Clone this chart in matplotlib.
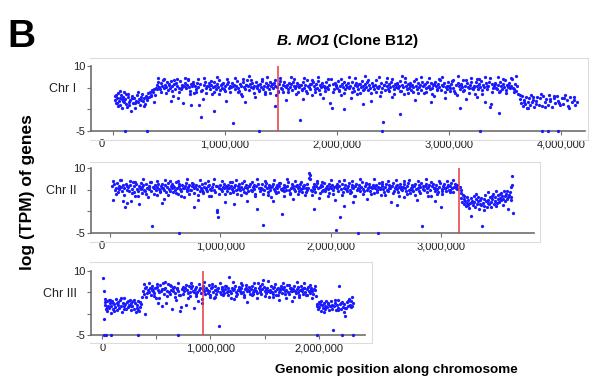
import matplotlib.pyplot as plt
from matplotlib.ticker import FuncFormatter
from matplotlib.lines import Line2D
from matplotlib.transforms import ScaledTranslation

plt.rcParams['font.family'] = ['Liberation Sans', 'DejaVu Sans']

# (gene position in kb, log TPM); -5 = not expressed
CHR1_GENES = [
    (18, 2.1), (25, 1.4), (31, 3.2), (37, 2.6), (43, 0.8), (49, 3.8), (54, 1.9), (60, 2.7), (66, 1.1), (72, 3.4),
    (78, 2.3), (84, 0.2), (90, 2.9), (97, 1.7), (103, 3.9), (110, 2.4), (117, 1.2), (124, 0.6), (131, 2.8), (138, 3.5),
    (146, 1.8), (154, 2.2), (162, -0.3), (170, 3.1), (178, 1.5), (186, 2.6), (195, 0.4), (204, 2.0), (213, 3.3), (222, 1.6),
    (231, 2.4), (240, 1.0), (249, 2.9), (258, 3.6), (267, 1.9), (276, 2.5), (285, 1.3), (294, 3.0), (303, 2.1), (312, 3.7),
    (321, 2.8), (330, 4.1), (339, 3.4), (348, 4.5), (357, 3.9), (366, 4.6), (375, 3.2), (384, 5.0),
    (396, 5.6), (405, 6.4), (414, 5.1), (422, 4.7), (431, 6.0), (440, 5.3), (448, 6.8), (457, 4.9), (466, 5.7), (475, 5.2),
    (484, 6.2), (493, 4.4), (502, 5.8), (511, 5.0), (520, 6.5), (529, 5.5), (538, 3.1), (547, 5.9), (556, 4.8), (565, 6.1),
    (574, 5.4), (583, 2.6), (592, 5.0), (601, 6.6), (610, 4.6), (619, 5.7), (628, 1.4), (637, 5.3), (646, 6.0), (655, 4.9),
    (664, 5.6), (673, 6.9), (682, 5.1), (691, 4.3), (700, 5.8), (709, 5.4), (718, 6.3), (727, 3.8), (736, 5.5), (745, 4.7),
    (754, 6.1), (763, 5.2), (772, 0.9), (781, 5.9), (790, -1.8), (799, 4.5), (808, 2.4), (817, 5.6), (826, 6.4), (835, 4.9),
    (844, 5.3), (853, 6.0), (862, 4.6), (871, 5.7), (880, 3.5), (889, 5.1), (898, 6.2), (907, 5.5), (916, 4.8), (925, 5.9),
    (934, 5.2), (943, 6.7), (952, 4.4), (961, 5.6), (970, 5.0), (979, 6.1), (988, 4.7), (997, 5.4), (1006, 2.0), (1015, 5.8),
    (1024, 6.3), (1033, 4.9), (1042, 5.5), (1051, 5.1), (1060, 6.0), (1069, -3.2), (1078, 5.7), (1087, 4.6), (1096, 5.3), (1105, 6.5),
    (1114, 5.0), (1123, 4.2), (1132, 5.9), (1141, 5.4), (1150, 3.0), (1159, 6.2), (1168, 5.2), (1177, 4.8), (1186, 5.6), (1195, 6.8),
    (1204, 5.3), (1213, 4.5), (1222, 5.8), (1231, 5.1), (1240, 6.1), (1249, 4.9), (1258, 5.5), (1267, 2.9), (1276, 6.4), (1285, 5.0),
    (1294, 5.7), (1303, 4.4), (1312, 5.9), (1321, 5.2), (1330, 6.6), (1339, 4.7), (1348, 5.4), (1357, 3.6), (1366, 6.0), (1375, 5.1),
    (1384, 5.6), (1393, 4.6), (1402, 6.3), (1411, 5.3), (1420, 5.8), (1429, 4.9), (1438, 6.1), (1447, 5.5), (1456, 3.3), (1465, 5.2),
    (1474, 4.1), (1483, 5.9), (1492, 6.5), (1501, 5.0), (1510, 4.7), (1519, 5.7), (1528, 6.2), (1537, 5.4), (1546, 2.2), (1555, 5.6),
    (1564, 4.8), (1573, 6.0), (1582, 5.1), (1591, 5.8), (1600, 4.5), (1609, 6.4), (1618, 5.3), (1627, 4.9), (1636, 5.5), (1645, 6.1),
    (1654, 3.9), (1663, 5.2), (1672, -2.4), (1681, 5.7), (1690, 4.6), (1699, 6.3), (1708, 5.0), (1717, 5.6), (1726, 4.3), (1735, 6.7),
    (1744, 5.4), (1753, 5.1), (1762, 4.8), (1771, 5.9), (1780, 3.2), (1789, 6.2), (1798, 5.3), (1807, 4.7), (1816, 5.8), (1825, 5.0),
    (1834, 6.5), (1843, 4.4), (1852, 5.6), (1861, 5.2), (1870, 6.0), (1879, 2.7), (1888, 5.5), (1897, 4.9), (1906, 6.3), (1915, 5.1),
    (1924, 4.6), (1933, 5.7), (1942, 1.5), (1951, 0.3), (1960, 5.9), (1969, 4.8), (1978, 6.1), (1987, 5.3), (1996, 5.0), (2005, 6.6),
    (2014, 4.5), (2023, 5.4), (2032, 3.4), (2041, 5.8), (2050, 5.2), (2059, 6.2), (2068, 4.7), (2077, 5.6), (2086, 5.1), (2095, 6.0),
    (2104, 4.9), (2113, 5.5), (2122, 2.5), (2131, 6.4), (2140, 5.0), (2149, 4.3), (2158, 5.7), (2167, 6.1), (2176, 5.3), (2185, 4.8),
    (2194, 5.9), (2203, 3.7), (2212, 5.2), (2221, 6.5), (2230, 5.4), (2239, 4.6), (2248, 5.8), (2257, 5.1), (2266, 6.3), (2275, 4.4),
    (2284, 5.6), (2293, 5.0), (2302, 1.9), (2311, 6.0), (2320, 5.3), (2329, 4.7), (2338, 5.7), (2347, 6.8), (2356, 5.2), (2365, 4.9),
    (2374, 5.5), (2383, 3.1), (2392, 6.1), (2401, 5.0), (2410, -3.0), (2419, 5.6), (2428, 4.5), (2437, 6.2), (2446, 5.3), (2455, 4.8),
    (2464, 5.9), (2473, 5.1), (2482, 6.4), (2491, 2.8), (2500, 5.4), (2509, 4.6), (2518, 5.8), (2527, 5.2), (2536, 6.0), (2545, 4.9),
    (2554, 5.5), (2563, 6.6), (2572, 4.2), (2581, 5.7), (2590, 5.1), (2599, 3.5), (2608, 6.3), (2617, 5.3), (2626, 4.7), (2635, 5.9),
    (2644, 5.0), (2653, 6.1), (2662, 4.4), (2671, 5.6), (2680, 5.2), (2689, 6.5), (2698, 2.1), (2707, 5.4), (2716, 4.8), (2725, 6.0),
    (2734, 5.1), (2743, 5.7), (2752, 4.5), (2761, 6.2), (2770, 5.3), (2779, 3.8), (2788, 5.8), (2797, 4.9), (2806, 6.4), (2815, 5.2),
    (2824, 5.5), (2833, 4.6), (2842, 6.1), (2851, 5.0), (2860, 5.6), (2869, 3.0), (2878, 6.3), (2887, 5.4), (2896, 4.7), (2905, 5.9),
    (2914, 5.1), (2923, 6.7), (2932, 4.4), (2941, 5.7), (2950, 5.3), (2959, 6.0), (2968, 2.6), (2977, 5.2), (2986, 4.8), (2995, 6.2),
    (3004, 5.5), (3013, 4.9), (3022, 5.8), (3031, 6.5), (3040, 5.0), (3049, 4.3), (3058, 5.6), (3067, 3.4), (3076, 6.1), (3085, 5.3),
    (3094, 4.7), (3103, 5.9), (3112, 5.1), (3121, 6.8), (3130, 4.5), (3139, 5.4), (3148, 2.3), (3157, 6.0), (3166, 5.2), (3175, 4.9),
    (3184, 5.7), (3193, 6.3), (3202, 5.0), (3211, 4.6), (3220, 5.5), (3229, 3.6), (3238, 6.2), (3247, 5.3), (3256, 4.8), (3265, 5.8),
    (3274, 5.1), (3283, 6.6), (3292, 4.4), (3301, 5.6), (3310, 5.2), (3319, 1.8), (3328, 6.0), (3337, 4.7), (3346, 5.4), (3355, 6.3),
    (3364, 0.5), (3373, 1.2), (3382, 5.9), (3391, 4.9), (3400, 5.5), (3409, 6.1), (3418, 5.0), (3427, 4.6), (3436, 5.7), (3445, 3.9),
    (3454, 6.4), (3463, 5.3), (3472, 4.8), (3481, 5.8), (3490, 5.1), (3499, 6.7), (3508, 4.5), (3517, 5.6), (3526, 5.2), (3535, 6.0),
    (3544, 4.9), (3553, 5.4), (3562, 6.9), (3571, 5.0), (3580, 4.7), (3589, 5.8), (3598, 4.3), (3607, 5.5),
    (3620, 3.6), (3632, 2.4), (3641, 1.5), (3650, 3.0), (3660, 0.7), (3668, 2.1), (3677, 1.2), (3686, 2.8), (3694, 0.2), (3703, 1.8),
    (3712, 2.5), (3722, 0.9), (3731, 3.4), (3741, 1.6), (3752, 2.2), (3763, 0.5), (3775, 1.9), (3788, 2.9), (3800, 1.1), (3813, 2.6),
    (3826, 0.8), (3840, 3.1), (3853, 1.7), (3866, 2.3), (3880, 1.0), (3893, 3.3), (3906, 2.0), (3920, 0.6), (3934, 2.7), (3948, 1.4),
    (3962, 3.0), (3977, 1.9), (3992, 0.9), (4006, 2.5), (4021, 1.3), (4036, 3.2), (4050, 2.1), (4066, 0.7), (4081, 2.8), (4097, 1.6),
    (4112, 2.2), (4128, 1.0), (4140, 1.8),
    (110, -5), (300, -5), (1300, -5), (2400, -5), (3280, -5), (3830, -5), (3880, -5), (3970, -5),
]
CHR1_MORE = [
    (405, 7.2), (428, 4.0), (452, 6.9), (474, 3.8), (499, 5.6), (523, 4.3), (546, 6.7), (571, 7.1), (594, 3.9), (617, 5.2),
    (641, 7.3), (666, 6.8), (689, 3.6), (713, 5.9), (737, 4.1), (760, 6.9), (784, 4.2), (809, 7.2), (832, 3.7), (856, 5.4),
    (879, 6.6), (903, 4.0), (927, 7.4), (950, 3.5), (974, 5.8), (998, 4.3), (1021, 7.1), (1046, 3.9), (1069, 5.3), (1093, 7.3),
    (1116, 4.1), (1140, 3.6), (1164, 7.0), (1187, 5.7), (1211, 7.6), (1235, 6.7), (1258, 3.8), (1282, 5.5), (1306, 4.2), (1329, 6.9),
    (1353, 4.0), (1377, 7.4), (1400, 3.7), (1424, 5.9), (1448, 6.8), (1471, 4.3), (1495, 7.3), (1519, 3.9), (1542, 5.1), (1566, 4.1),
    (1590, 7.5), (1613, 7.1), (1637, 3.6), (1661, 5.6), (1684, 4.4), (1708, 7.2), (1732, 3.8), (1755, 5.8), (1779, 6.7), (1803, 4.0),
    (1826, 7.4), (1850, 3.5), (1874, 5.4), (1897, 4.2), (1921, 7.1), (1945, 6.9), (1968, 3.9), (1992, 5.7), (2016, 4.3), (2039, 7.0),
    (2063, 3.7), (2087, 5.2), (2110, 7.5), (2134, 4.1), (2158, 7.2), (2181, 3.6), (2205, 5.9), (2229, 4.4), (2252, 7.7), (2276, 6.8),
    (2300, 3.8), (2323, 5.5), (2347, 4.0), (2371, 7.4), (2394, 3.9), (2418, 5.6), (2442, 7.3), (2465, 4.2), (2489, 7.0), (2513, 3.5),
    (2536, 5.8), (2560, 4.3), (2584, 7.6), (2607, 7.2), (2631, 3.7), (2655, 5.3), (2678, 4.1), (2702, 7.1), (2726, 3.8), (2749, 7.4),
    (2773, 5.7), (2797, 4.0), (2820, 7.3), (2844, 3.6), (2868, 5.9), (2891, 4.4), (2915, 6.9), (2939, 7.5), (2962, 3.9), (2986, 5.4),
    (3010, 4.2), (3033, 6.7), (3057, 3.7), (3081, 7.8), (3104, 5.6), (3128, 4.3), (3152, 6.8), (3175, 3.8), (3199, 7.3), (3223, 5.2),
    (3246, 7.0), (3270, 6.9), (3294, 3.6), (3317, 7.4), (3341, 5.5), (3365, 7.2), (3388, 3.9), (3412, 5.8), (3436, 7.5), (3459, 4.2),
    (3483, 7.1), (3507, 3.7), (3530, 5.6), (3554, 7.3), (3578, 4.0), (3600, 7.6),
    (15, 3.0), (40, 1.5), (64, 4.2), (88, 1.9), (113, 3.6), (142, 0.9), (166, 2.7), (199, 1.4), (227, 3.9), (253, 2.2),
    (281, 0.8), (308, 2.6), (336, 3.1), (362, 1.7), (389, 4.8),
    (3636, 3.2), (3672, 1.7), (3708, 0.4), (3746, 2.9), (3781, 1.3), (3819, 3.5), (3858, 0.6), (3899, 2.4), (3941, 3.0),
    (3984, 1.5), (4028, 2.6), (4073, 0.4), (4120, 2.9),
    (520, 2.0), (700, 1.0), (900, -0.5), (1180, 1.6), (1450, 0.8), (1700, 2.3), (2060, 0.1), (2230, 1.2), (2560, -1.1),
    (2840, 1.7), (3100, 0.4), (3250, 2.9), (3450, -0.8),
]

CHR2_GENES = [
    (22, 5.8), (30, 2.6), (38, 6.2), (46, 4.9), (54, 5.5), (62, 6.6), (70, 4.4), (78, 5.9), (86, 5.1), (94, 7.3),
    (102, 5.6), (110, 4.8), (118, 6.1), (126, 5.3), (134, 1.0), (142, 6.4), (150, 5.0), (158, 2.0), (166, 5.7), (174, 4.6),
    (182, 6.0), (190, 2.4), (198, 5.2), (206, 6.8), (214, 4.5), (222, 5.8), (230, 3.5), (238, 6.3), (246, 5.1), (254, 4.7),
    (262, 5.9), (270, 5.4), (278, 6.5), (286, 4.3), (294, 5.6), (302, 6.1), (310, 5.0), (318, 4.8), (326, 6.2), (334, 5.5),
    (342, 3.2), (350, 5.9), (358, 5.2), (366, 6.7), (374, 4.6), (382, -3.4), (390, 5.7), (398, 5.3), (406, 6.0), (414, 4.9),
    (422, 5.6), (430, 3.8), (438, 6.4), (446, 5.1), (454, 4.7), (462, 5.8), (470, 6.3), (478, 5.4), (486, 2.9), (494, 5.0),
    (502, 6.1), (510, 4.5), (518, 5.7), (526, 6.6), (534, 5.2), (542, 4.8), (550, 5.9), (558, 5.5), (566, 6.2), (574, 4.4),
    (582, 5.6), (590, 5.0), (598, 6.8), (606, 5.3), (614, 4.1), (622, 5.8), (630, 6.4), (638, 5.1), (646, 4.7), (654, 6.0),
    (662, 5.5), (670, 3.3), (678, 5.9), (686, 6.5), (694, 5.2), (702, 4.6), (710, 5.7), (718, 6.1), (726, 5.0), (734, 4.9),
    (742, 5.8), (750, 6.3), (758, 5.4), (766, 4.3), (774, 5.6), (782, 6.0), (790, 5.1), (798, 2.7), (806, 5.9), (814, 4.8),
    (822, 5.5), (830, 6.2), (838, 5.0), (846, 4.4), (854, 5.7), (862, 6.6), (870, 5.3), (878, 4.7), (886, 5.8), (894, 3.6),
    (902, 6.1), (910, 5.2), (918, 4.9), (926, 5.6), (934, 6.4), (942, 5.0), (950, 4.5), (958, 5.9), (966, 0.3), (974, -0.2),
    (982, -1.3), (990, 5.4), (998, 6.0), (1006, 5.1), (1014, 4.6), (1022, 5.7), (1030, 6.3), (1038, 5.3), (1046, 2.1), (1054, 5.8),
    (1062, 4.8), (1070, 6.1), (1078, 5.5), (1086, 4.2), (1094, 5.9), (1102, 6.7), (1110, 5.2), (1118, 4.7), (1126, 5.6), (1134, 6.0),
    (1142, 5.0), (1150, 3.9), (1158, 5.8), (1166, 6.2), (1174, 5.3), (1182, 4.9), (1190, 5.7), (1198, 6.5), (1206, 5.1), (1214, 4.4),
    (1222, 5.6), (1230, 6.1), (1238, 2.5), (1246, 5.4), (1254, 4.8), (1262, 5.9), (1270, 6.3), (1278, 5.0), (1286, 4.6), (1294, 5.7),
    (1302, 6.0), (1310, 5.2), (1318, 4.1), (1326, 5.8), (1334, 0.5), (1342, 6.4), (1350, 5.3), (1358, 4.7), (1366, 5.5), (1374, 6.2),
    (1382, 5.1), (1390, -3.2), (1398, 4.9), (1406, 5.9), (1414, 6.6), (1422, 5.4), (1430, 4.5), (1438, 5.6), (1446, 6.0), (1454, 5.0),
    (1462, 3.4), (1470, 5.8), (1478, 6.3), (1486, 5.2), (1494, 4.8), (1502, 5.7), (1510, 6.1), (1518, 5.3), (1526, 4.4), (1534, 5.9),
    (1542, 6.5), (1550, 5.1), (1558, -0.6), (1566, 5.5), (1574, 4.7), (1582, 6.0), (1590, 5.6), (1598, 4.9), (1606, 5.8), (1614, 6.7),
    (1622, 5.0), (1630, 4.3), (1638, 5.4), (1646, 6.2), (1654, 5.7), (1662, 2.8), (1670, 5.2), (1678, 4.6), (1686, 5.9), (1694, 6.1),
    (1702, 5.3), (1710, 4.8), (1718, 5.6), (1726, 6.4), (1734, 5.1), (1742, 4.5), (1750, 5.8), (1758, 6.0), (1766, 3.7), (1774, 5.4),
    (1782, 4.9), (1790, 6.3), (1798, 5.5), (1806, 8.9), (1810, 8.3), (1814, 7.4), (1822, 5.0), (1830, 4.7), (1838, 5.7), (1846, 6.2),
    (1854, 5.2), (1862, 4.4), (1870, 5.9), (1878, 6.5), (1886, 5.3), (1894, 3.1), (1902, 5.6), (1910, 6.1), (1918, 4.8), (1926, 5.8),
    (1934, 5.0), (1942, 6.6), (1950, 4.6), (1958, 5.5), (1966, 5.9), (1974, 5.1), (1982, 6.3), (1990, 4.2), (1998, 5.7), (2006, 5.4),
    (2014, 6.0), (2022, 4.9), (2030, 5.6), (2038, 2.6), (2046, -4.3), (2054, 5.3), (2062, 6.4), (2070, 4.7), (2078, 5.8), (2086, -1.3),
    (2094, 5.1), (2102, 6.2), (2110, 4.5), (2118, 5.5), (2126, 1.2), (2134, 6.0), (2142, 5.2), (2150, 4.8), (2158, 5.9), (2166, 6.5),
    (2174, 5.0), (2182, 4.4), (2190, 5.7), (2198, 6.1), (2206, 5.3), (2214, 3.5), (2222, 5.8), (2230, 6.3), (2238, 4.9), (2246, 5.4),
    (2254, 6.0), (2262, 5.1), (2270, 4.6), (2278, 5.6), (2286, 6.7), (2294, 5.2), (2302, 4.8), (2310, 5.9), (2318, 6.2), (2326, 5.0),
    (2334, 2.9), (2342, 5.5), (2350, 6.4), (2358, 4.7), (2366, 5.7), (2374, 5.3), (2382, 6.1), (2390, 4.3), (2398, 5.8), (2406, 5.4),
    (2414, 6.0), (2422, 4.9), (2430, 5.6), (2438, 6.6), (2446, 5.1), (2454, 3.8), (2462, 5.9), (2470, 6.2), (2478, 5.2), (2486, 4.5),
    (2494, 5.7), (2502, 6.3), (2510, 5.0), (2518, 4.8), (2526, 5.5), (2534, 6.1), (2542, 5.3), (2550, 2.2), (2558, 5.8), (2566, 6.5),
    (2574, 4.6), (2582, 5.4), (2590, 5.9), (2598, 6.0), (2606, 5.1), (2614, 4.4), (2622, 5.6), (2630, 6.4), (2638, 5.2), (2646, 4.9),
    (2654, 5.7), (2662, 3.3), (2670, 6.2), (2678, 5.5), (2686, 4.7), (2694, 5.8), (2702, 6.6), (2710, 5.0), (2718, 4.3), (2726, 5.4),
    (2734, 6.1), (2742, 5.6), (2750, 4.8), (2758, 5.9), (2766, 6.3), (2774, 5.1), (2782, 2.7), (2790, 5.3), (2798, 6.0), (2806, 4.6),
    (2814, 5.7), (2822, 6.5), (2830, -3.4), (2838, 5.2), (2846, 4.9), (2854, 5.8), (2862, 6.2), (2870, 5.4), (2878, 4.5), (2886, 5.6),
    (2894, 6.1), (2902, 5.0), (2910, 3.6), (2918, 5.9), (2926, 6.4), (2934, 5.3), (2942, 4.7), (2950, 5.5), (2958, 6.0), (2966, 5.1),
    (2974, 4.4), (2982, 5.7), (2990, 6.6), (2998, 1.0), (3006, 5.2), (3014, 4.8), (3022, 5.8), (3030, 6.3), (3038, 5.4), (3046, 4.6),
    (3054, 5.6), (3062, 6.1), (3070, 5.0), (3078, 4.9), (3086, 5.9), (3094, 6.5), (3102, 5.3), (3110, 4.5), (3118, 5.7), (3126, 6.2),
    (3134, 5.5), (3142, 6.0), (3150, 5.1),
    (3172, 5.6), (3178, 4.9), (3185, 3.1), (3192, 2.2), (3199, 3.8), (3206, 1.6), (3213, 2.9), (3220, 2.4), (3227, 1.2), (3234, 3.3),
    (3241, 2.0), (3248, 2.7), (3255, 0.8), (3262, 1.9), (3269, 3.0), (3276, -1.0), (3283, 2.5), (3290, 1.4), (3297, 3.6), (3304, 2.1),
    (3311, 1.0), (3318, 2.8), (3325, 1.7), (3332, 3.4), (3339, 2.3), (3346, 0.6), (3353, 2.6), (3360, 1.5), (3367, 3.1), (3374, -3.4),
    (3381, 2.0), (3388, 2.9), (3395, 1.3), (3402, 3.7), (3409, 2.4), (3416, 1.1), (3423, 2.7), (3430, 4.4), (3437, 1.8), (3444, 3.2),
    (3451, 2.2), (3458, 0.9), (3465, 2.8), (3472, 3.9), (3479, 1.6), (3486, 2.5), (3493, 3.4), (3500, 4.6), (3507, 1.9), (3514, 2.9),
    (3521, 3.8), (3528, 2.1), (3535, 3.0), (3542, 4.2), (3549, 2.6), (3556, 3.5), (3563, 1.4), (3570, 4.8), (3577, 2.4), (3584, 3.6),
    (3591, 4.1), (3598, 2.9), (3605, 3.2), (3612, 0.6), (3619, 3.7), (3626, 4.5), (3633, 2.7), (3640, 5.6), (3644, 8.2), (3647, 6.1),
    (3650, -0.4),
    (630, -5), (2250, -5), (2430, -5),
]
CHR2_MORE = [
    (30, 6.9), (55, 4.1), (80, 5.5), (104, 7.2), (129, 3.8), (153, 5.9), (178, 7.0), (203, 4.3), (227, 6.7), (252, 3.6),
    (277, 5.2), (301, 7.4), (326, 4.0), (350, 5.7), (375, 6.8), (400, 3.9), (424, 7.1), (449, 4.4), (474, 5.4), (498, 7.3),
    (523, 3.7), (547, 6.9), (572, 5.8), (597, 4.2), (621, 7.0), (646, 3.5), (671, 5.3), (695, 7.5), (720, 4.0), (744, 6.6),
    (769, 5.6), (794, 3.8), (818, 7.2), (843, 4.3), (868, 5.1), (892, 6.9), (917, 3.6), (941, 7.4), (966, 5.9), (991, 4.1),
    (1015, 7.0), (1040, 3.9), (1065, 5.5), (1089, 6.7), (1114, 4.4), (1138, 7.3), (1163, 5.2), (1188, 3.7), (1212, 7.1), (1237, 4.2),
    (1262, 5.8), (1286, 6.8), (1311, 3.5), (1335, 7.5), (1360, 5.4), (1385, 4.0), (1409, 6.9), (1434, 3.8), (1459, 5.7), (1483, 7.2),
    (1508, 4.3), (1532, 6.6), (1557, 5.0), (1582, 3.6), (1606, 7.4), (1631, 4.1), (1656, 5.9), (1680, 7.0), (1705, 3.9), (1729, 6.8),
    (1754, 5.3), (1779, 4.4), (1803, 7.6), (1828, 3.7), (1853, 5.6), (1877, 7.1), (1902, 4.2), (1926, 6.7), (1951, 5.1), (1976, 3.5),
    (2000, 7.3), (2025, 4.0), (2050, 5.8), (2074, 6.9), (2099, 3.8), (2123, 7.2), (2148, 5.5), (2173, 4.3), (2197, 7.0), (2222, 3.6),
    (2247, 5.2), (2271, 7.5), (2296, 4.1), (2320, 6.6), (2345, 5.7), (2370, 3.9), (2394, 7.4), (2419, 4.4), (2444, 5.4), (2468, 6.8),
    (2493, 3.7), (2517, 7.1), (2542, 5.9), (2567, 4.2), (2591, 7.3), (2616, 3.5), (2641, 5.6), (2665, 6.9), (2690, 4.0), (2714, 7.2),
    (2739, 5.0), (2764, 3.8), (2788, 7.0), (2813, 4.3), (2838, 5.8), (2862, 7.4), (2887, 3.6), (2911, 6.7), (2936, 5.3), (2961, 4.1),
    (2985, 7.1), (3010, 3.9), (3035, 5.5), (3059, 6.9), (3084, 4.4), (3108, 7.3), (3133, 5.7),
    (120, 2.3), (260, 1.6), (470, 2.0), (760, 1.1), (1120, 1.8), (1480, 2.5), (1850, 0.6), (2200, 2.1), (2600, 1.4), (2950, 2.4),
    (3182, 4.2), (3210, 3.5), (3245, 1.5), (3280, 2.2), (3320, 3.9), (3356, 1.8), (3392, 0.4), (3428, 2.0), (3462, 3.5),
    (3497, 1.2), (3532, 4.0), (3566, 2.9), (3602, 4.6), (3636, 3.3),
]

CHR3_GENES = [
    (8, 8.3), (12, 5.2), (16, -1.2), (22, 3.5), (28, 2.1), (34, 1.2), (40, 2.9), (46, 0.6), (52, 1.8), (58, 3.2),
    (64, 1.4), (70, 2.4), (76, 0.2), (82, 1.9), (88, 3.0), (94, 2.6), (100, 1.0), (108, 2.2), (116, 1.6), (124, 3.4),
    (132, 0.8), (140, 2.0), (148, 2.7), (156, 1.3), (164, 3.1), (172, 1.9), (180, 0.5), (188, 2.5), (196, 1.7), (204, 3.6),
    (212, 2.3), (220, 1.1), (228, 2.8), (236, 1.5), (244, 2.1), (252, 3.3), (260, 0.9), (268, 2.4), (276, 1.8), (284, 3.0),
    (292, 1.2), (300, 2.6), (308, 0.3), (316, 2.0), (324, 1.4), (332, 2.9), (340, 0.7), (348, 1.6), (356, 2.3), (364, 3.8),
    (374, 5.4), (382, 4.6), (390, 0.0), (398, 5.9), (406, 6.3), (414, 4.9), (422, 5.6), (430, 5.1), (438, 6.0), (446, 4.4),
    (454, 5.7), (462, 6.5), (470, 5.2), (478, 4.8), (486, 5.9), (494, 3.6), (502, 6.2), (510, 5.5), (518, 2.4), (526, 5.0),
    (534, 6.7), (542, 5.3), (550, 1.9), (558, 7.3), (566, 5.8), (574, 4.7), (582, 6.1), (590, 2.5), (598, 5.4), (606, 7.0),
    (614, 5.1), (622, 4.5), (630, 6.4), (638, 5.6), (646, 1.1), (654, 5.9), (662, 6.2), (670, 4.9), (678, 3.3), (686, 5.7),
    (694, 6.0), (702, 5.2), (710, 4.3), (718, 0.7), (726, 1.5), (734, 5.8), (742, 6.3), (750, 4.6), (758, 5.4), (766, 6.1),
    (774, 2.0), (782, 5.5), (790, 4.8), (798, 6.5), (806, 5.0), (814, 4.1), (822, 5.9), (830, 6.6), (838, 5.3), (846, 1.3),
    (854, 5.7), (862, 4.7), (870, 6.2), (878, 5.1), (886, 3.0), (894, 5.6), (902, 6.0), (910, 4.9), (918, 2.6), (926, 5.8),
    (934, 6.4), (942, 5.2), (950, 4.5), (958, 6.1), (966, 5.5), (974, 4.8), (982, 6.7), (990, 5.3), (998, 4.4), (1006, 5.9),
    (1014, 6.2), (1022, 5.0), (1030, 3.7), (1038, 5.6), (1046, 6.5), (1054, 4.7), (1062, 5.4), (1070, 6.0), (1078, -2.8), (1086, 5.1),
    (1094, 4.6), (1102, 5.8), (1110, 6.3), (1118, 5.2), (1126, 4.9), (1134, 5.7), (1142, 6.6), (1150, 5.0), (1158, 4.3), (1166, 5.9),
    (1174, 8.5), (1182, 5.4), (1190, 4.8), (1198, 6.1), (1206, 5.5), (1214, 3.4), (1222, 5.8), (1230, 6.4), (1238, 5.1), (1246, 4.6),
    (1254, 5.6), (1262, 6.2), (1270, 5.3), (1278, 4.9), (1286, 5.9), (1294, 6.8), (1302, 5.0), (1310, 4.4), (1318, 5.7), (1326, 6.0),
    (1334, 5.2), (1342, 2.8), (1350, 5.5), (1358, 6.3), (1366, 4.7), (1374, 5.8), (1382, 6.5), (1390, 5.1), (1398, 4.5), (1406, 5.6),
    (1414, 6.1), (1422, 5.4), (1430, 4.8), (1438, 7.1), (1446, 5.9), (1454, 5.0), (1462, 6.4), (1470, 4.6), (1478, 5.7), (1486, 7.8),
    (1494, 6.2), (1502, 5.3), (1510, 4.9), (1518, 5.8), (1526, 6.0), (1534, 5.2), (1542, 3.9), (1550, 5.6), (1558, 6.6), (1566, 5.0),
    (1574, 4.7), (1582, 5.9), (1590, 6.3), (1598, 5.4), (1606, 4.4), (1614, 5.7), (1622, 6.1), (1630, 5.1), (1638, 3.2), (1646, 5.5),
    (1654, 6.5), (1662, 4.8), (1670, 5.8), (1678, 6.2), (1686, 5.3), (1694, 4.6), (1702, 5.6), (1710, 6.7), (1718, 5.0), (1726, 4.5),
    (1734, 5.9), (1742, 6.0), (1750, 5.2), (1758, 2.9), (1766, 5.7), (1774, 6.4), (1782, 5.4), (1790, 4.9), (1798, 5.8), (1806, 6.2),
    (1814, 5.1), (1822, 4.3), (1830, 5.5), (1838, 6.6), (1846, 5.3), (1854, 4.7), (1862, 5.9), (1870, 6.1), (1878, 5.0), (1886, 4.4),
    (1894, 5.7), (1902, 6.3), (1910, 5.2), (1918, 4.8), (1926, 5.6), (1934, 6.0), (1942, 5.4), (1950, 4.6), (1958, 5.8), (1966, 6.4),
    (1974, 4.2),
    (1984, 2.2), (1992, 1.0), (2000, 2.7), (2008, 1.6), (2016, 2.3), (2024, 0.7), (2032, 2.0), (2040, 1.4), (2048, 2.6), (2056, 1.1),
    (2064, 1.9), (2072, 3.0), (2080, 1.5), (2088, 2.4), (2096, 0.9), (2104, 1.8), (2112, 2.9), (2120, 1.2), (2128, 2.1), (2136, -3.8),
    (2144, 1.7), (2152, 2.5), (2160, 0.8), (2168, 2.0), (2176, 3.2), (2184, 1.4), (2192, 6.6), (2200, 2.3), (2208, 1.0), (2216, 2.8),
    (2224, 1.6), (2232, 0.3), (2240, 2.2), (2248, -0.5), (2256, 1.3), (2264, 2.7), (2272, 1.9), (2280, 3.4), (2288, 2.1), (2296, 1.5),
    (2304, 3.0), (2312, 4.0), (2318, 2.6),
    (10, -5), (35, -5), (80, -5), (330, -5), (700, -5), (1990, -5), (2220, -5), (2320, -5),
]
CHR3_MORE = [
    (380, 6.9), (405, 3.9), (430, 7.2), (454, 5.6), (478, 4.2), (503, 7.0), (527, 3.6), (552, 5.8), (576, 7.4), (600, 4.1),
    (625, 6.7), (649, 5.3), (674, 3.8), (698, 7.1), (722, 4.4), (747, 5.9), (771, 6.8), (796, 3.7), (820, 7.3), (845, 5.0),
    (869, 4.2), (893, 6.9), (918, 3.5), (942, 7.5), (967, 5.5), (991, 4.0), (1015, 7.0), (1040, 3.8), (1064, 5.7), (1089, 7.2),
    (1113, 4.3), (1138, 6.6), (1162, 5.2), (1186, 3.6), (1211, 7.4), (1235, 4.1), (1260, 5.8), (1284, 7.1), (1308, 3.9), (1333, 6.8),
    (1357, 5.4), (1382, 4.4), (1406, 7.3), (1430, 3.7), (1455, 5.6), (1479, 6.9), (1504, 4.2), (1528, 7.6), (1552, 5.1), (1577, 3.8),
    (1601, 7.0), (1626, 4.3), (1650, 5.9), (1674, 7.2), (1699, 3.6), (1723, 6.7), (1748, 5.3), (1772, 4.0), (1796, 7.4), (1821, 3.9),
    (1845, 5.7), (1870, 7.1), (1894, 4.4), (1918, 6.8), (1943, 3.7), (1965, 5.5),
    (20, 2.7), (44, 1.5), (68, 3.3), (104, 0.6), (136, 2.5), (168, 3.7), (200, 1.2), (232, 2.9), (264, 1.7), (296, 3.2),
    (328, 0.9), (352, 2.8),
    (1988, 1.8), (2020, 2.9), (2052, 0.5), (2084, 2.2), (2116, 1.7), (2148, 3.1), (2180, 0.9), (2212, 2.5), (2244, 1.3),
    (2276, 3.0), (2308, 1.9),
]

CHR_NAMES = ['Chr I', 'Chr II', 'Chr III']
BREAKPOINTS = [1470000, 3164000, 926000]
X_TICKS = [[0, 1000000, 2000000, 3000000, 4000000],
           [0, 1000000, 2000000, 3000000],
           [0, 500000, 1000000, 1500000, 2000000]]

W, H = 599, 378
fig = plt.figure(figsize=(W / 100, H / 100), dpi=100)

# panel layout in pixels: left, top, right, bottom of the axes; x range
BOXES = [(91, 66, 585, 131), (91, 168, 534, 233), (91, 271, 365, 335)]
XLIMS = [(-196000, 4214000), (-172000, 3844000), (-106000, 2430000)]
FRAMES = [(90, 58, 588, 140), (90, 162, 540, 242), (90, 262, 372, 343)]
ZERO_SHIFT = [-11, -8, 0]

GREY = '#6e6e6e'
all_genes = [CHR1_GENES + CHR1_MORE, CHR2_GENES + CHR2_MORE, CHR3_GENES + CHR3_MORE]
for i, genes in enumerate(all_genes):
    l, t, r, b = BOXES[i]
    ax = fig.add_axes([l / W, 1 - b / H, (r - l) / W, (b - t) / H])
    xs = [g[0] * 1000 for g in genes]
    ys = [g[1] for g in genes]
    ax.scatter(xs, ys, s=5.5, c='#1a1aff', linewidths=0, clip_on=False, zorder=3)
    ax.axvline(BREAKPOINTS[i], color='#e8383d', lw=1.1, zorder=4)
    ax.set_xlim(*XLIMS[i])
    ax.set_ylim(-5, 10)
    for s in ['top', 'right']:
        ax.spines[s].set_visible(False)
    for s in ['left', 'bottom']:
        ax.spines[s].set_color(GREY)
        ax.spines[s].set_linewidth(1.2)
    ax.set_yticks([-5, 0, 5, 10])
    ax.set_yticklabels(['-5', '', '', '10'])
    ax.set_xticks(X_TICKS[i])
    ax.xaxis.set_major_formatter(FuncFormatter(lambda v, p: '' if v % 1000000 else f'{int(v):,}'))
    ax.tick_params(axis='both', length=3, width=0.8, color=GREY, labelsize=8, labelcolor='#222222')
    ax.tick_params(axis='y', pad=1)
    ax.tick_params(axis='x', pad=3)
    zero_label = ax.xaxis.get_major_ticks()[0].label1
    zero_label.set_transform(zero_label.get_transform() +
                             ScaledTranslation(ZERO_SHIFT[i] / 100, 0, fig.dpi_scale_trans))
    ax.annotate(CHR_NAMES[i], xy=(0, 5), xycoords=('axes fraction', 'data'),
                xytext=(-10.5, -1), textcoords='offset points',
                ha='right', va='center', fontsize=9, color='#222222')

    fl, ft, fr, fb = FRAMES[i]
    kw = dict(transform=fig.transFigure, color='#dcdcdc', lw=0.8)
    fig.add_artist(Line2D([fl / W, fr / W], [1 - ft / H, 1 - ft / H], **kw))
    fig.add_artist(Line2D([fr / W, fr / W], [1 - ft / H, 1 - fb / H], **kw))
    fig.add_artist(Line2D([fl / W, fr / W], [1 - fb / H, 1 - fb / H], **kw))

fig.text(7 / W, 1 - 47 / H, 'B', fontsize=28, weight='bold', va='baseline', ha='left')
fig.text(330 / W, 1 - 45 / H, 'B. MO1', fontsize=11, weight='bold', style='italic', va='baseline', ha='right')
fig.text(333 / W, 1 - 45 / H, '(Clone B12)', fontsize=11, weight='bold', va='baseline', ha='left')
fig.text(28 / W, 1 - 192 / H, 'log (TPM) of genes', rotation=90, fontsize=12.5, weight='bold',
         ha='center', va='center')
fig.text(396 / W, 1 - 370 / H, 'Genomic position along chromosome', fontsize=9.7, weight='bold',
         ha='center', va='center')

fig.savefig('out.png', dpi=100)
